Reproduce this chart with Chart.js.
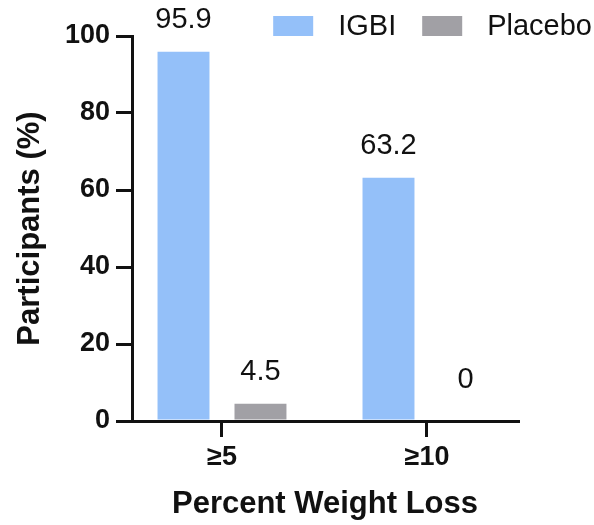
<!DOCTYPE html>
<html>
<head>
<meta charset="utf-8">
<script src="https://cdn.jsdelivr.net/npm/chart.js@4.4.1/dist/chart.umd.min.js"></script>
<style>
  html, body { margin: 0; padding: 0; background: #fff; }
  #wrap { width: 594px; height: 525px; position: relative; }
</style>
</head>
<body>
<div id="wrap"><canvas id="myChart"></canvas></div>
<script>
// chart data
var categories = ['\u22655', '\u226510'];
var seriesNames = ['IGBI', 'Placebo'];
var igbiValues = [95.9, 63.2];
var placeboValues = [4.5, 0];
var yTicks = [0, 20, 40, 60, 80, 100];

var FONT = "'Liberation Sans', Arial, sans-serif";
var colors = ['#94c0f9', '#a1a0a5'];

function toPoints(vals) {
  return vals.map(function(v, i) { return { x: i, y: v }; });
}

// value labels above the bars
var valueLabels = {
  id: 'valueLabels',
  afterDatasetsDraw: function(chart) {
    var ctx = chart.ctx;
    var zeroY = chart.scales.y.getPixelForValue(0);
    ctx.save();
    ctx.font = '29px ' + FONT;
    ctx.fillStyle = '#111';
    ctx.textAlign = 'center';
    ctx.textBaseline = 'middle';
    chart.data.datasets.forEach(function(ds, di) {
      var meta = chart.getDatasetMeta(di);
      meta.data.forEach(function(bar, i) {
        var y = Math.min(bar.y - 32, zeroY - 41);
        ctx.fillText(String(ds.data[i].y), bar.x, y);
      });
    });
    ctx.restore();
  }
};

// legend drawn in the top right corner
var topLegend = {
  id: 'topLegend',
  afterDraw: function(chart) {
    var ctx = chart.ctx;
    ctx.save();
    ctx.font = '29px ' + FONT;
    ctx.textBaseline = 'middle';
    ctx.textAlign = 'left';
    var boxW = 40, boxH = 20, gapText = 25, gapItem = 26;
    var total = 0;
    chart.data.datasets.forEach(function(ds, i) {
      total += boxW + gapText + ctx.measureText(ds.label).width;
      if (i > 0) total += gapItem;
    });
    var x = 592 - total;
    var top = 16;
    chart.data.datasets.forEach(function(ds) {
      ctx.fillStyle = ds.backgroundColor;
      ctx.fillRect(x, top, boxW, boxH);
      x += boxW + gapText;
      ctx.fillStyle = '#111';
      ctx.fillText(ds.label, x, top + boxH / 2 + 1);
      x += ctx.measureText(ds.label).width + gapItem;
    });
    ctx.restore();
  }
};

var ctx = document.getElementById('myChart').getContext('2d');
var chart = new Chart(ctx, {
  type: 'bar',
  data: {
    datasets: [{
      label: seriesNames[0],
      data: toPoints(igbiValues),
      backgroundColor: colors[0],
      barPercentage: 0.675,
      categoryPercentage: 0.751
    }, {
      label: seriesNames[1],
      data: toPoints(placeboValues),
      backgroundColor: colors[1],
      barPercentage: 0.675,
      categoryPercentage: 0.751
    }]
  },
  plugins: [valueLabels, topLegend],
  options: {
    responsive: true,
    maintainAspectRatio: false,
    animation: false,
    layout: { padding: { top: 36, right: 76, left: 0, bottom: 0 } },
    plugins: {
      legend: { display: false },
      tooltip: { enabled: false }
    },
    scales: {
      x: {
        type: 'linear',
        offset: false,
        min: -0.439,
        max: 1.444,
        afterBuildTicks: function(s) {
          s.ticks = categories.map(function(c, i) { return { value: i }; });
        },
        afterFit: function(s) { s.height = 104; },
        ticks: {
          callback: function(v) { return categories[v]; },
          color: '#111',
          font: { family: FONT, size: 27, weight: 'bold' },
          padding: 4,
          maxRotation: 0
        },
        grid: { offset: false, drawOnChartArea: false, drawTicks: true, tickLength: 16, lineWidth: 3, color: '#111' },
        border: { display: true, width: 3, color: '#111' },
        title: {
          display: true,
          text: 'Percent Weight Loss',
          color: '#111',
          font: { family: FONT, size: 31, weight: 'bold' },
          padding: { top: 0, bottom: 2 }
        }
      },
      y: {
        min: 0,
        max: 100,
        afterBuildTicks: function(s) {
          s.ticks = yTicks.map(function(v) { return { value: v }; });
        },
        afterFit: function(s) { s.width = 132; },
        ticks: {
          color: '#111',
          font: { family: FONT, size: 27, weight: 'bold' },
          padding: 6
        },
        grid: { drawOnChartArea: false, drawTicks: true, tickLength: 16, lineWidth: 3, color: '#111' },
        border: { display: true, width: 3, color: '#111' },
        title: {
          display: true,
          text: 'Participants (%)',
          color: '#111',
          font: { family: FONT, size: 31, weight: 'bold' },
          padding: { top: 12, bottom: 0 }
        }
      }
    }
  }
});
</script>
</body>
</html>
